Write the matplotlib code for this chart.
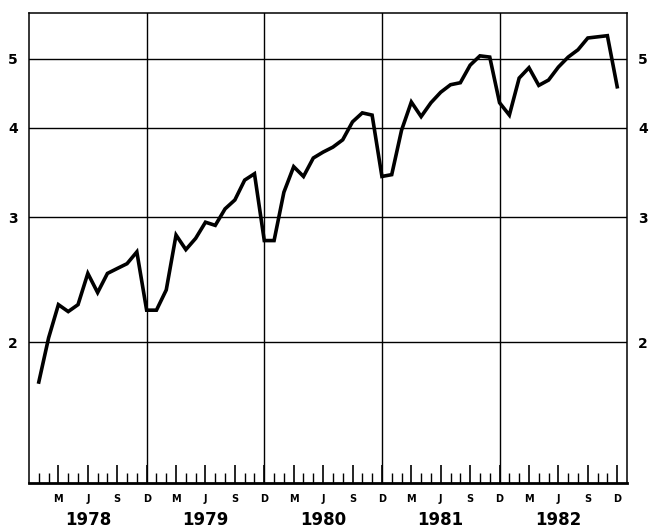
import matplotlib
matplotlib.use("Agg")
import matplotlib.pyplot as plt
from matplotlib.ticker import FixedLocator, NullFormatter, NullLocator

years = ["1978", "1979", "1980", "1981", "1982"]
month_letters = ["M", "J", "S", "D"]
y_ticks = [2, 3, 4, 5]

# Monthly values, Jan 1978 .. Dec 1982
v1978 = [1.76, 2.03, 2.26, 2.21, 2.26, 2.50, 2.35, 2.50, 2.54, 2.58, 2.68, 2.22]
v1979 = [2.22, 2.37, 2.83, 2.70, 2.80, 2.95, 2.92, 3.08, 3.17, 3.38, 3.45, 2.78]
v1980 = [2.78, 3.25, 3.53, 3.42, 3.63, 3.70, 3.76, 3.85, 4.08, 4.20, 4.17, 3.42]
v1981 = [3.44, 3.97, 4.35, 4.15, 4.34, 4.49, 4.60, 4.63, 4.90, 5.05, 5.03, 4.34]
v1982 = [4.17, 4.70, 4.86, 4.59, 4.67, 4.87, 5.03, 5.15, 5.35, 5.37, 5.39, 4.57]

values = v1978 + v1979 + v1980 + v1981 + v1982
months = list(range(1, len(values) + 1))

fig = plt.figure(figsize=(6.51, 5.29), dpi=100)
ax = fig.add_axes([29 / 651, 1 - 483 / 529, (627 - 29) / 651, (483 - 13) / 529])

ax.set_yscale("log")
ax.set_xlim(0, 61)
ax.set_ylim(1.27, 5.8)

# grid
for yv in y_ticks:
    ax.axhline(yv, color="black", lw=1.0, zorder=1)
for k in range(1, len(years)):
    ax.axvline(12 * k, color="black", lw=1.0, zorder=1)

ax.plot(months, values, color="black", lw=2.6, solid_joinstyle="miter", zorder=3)

for s in ax.spines.values():
    s.set_linewidth(1.1)
    s.set_color("black")
ax.spines["bottom"].set_linewidth(2.0)

# y axis labels on both sides
ax.yaxis.set_major_locator(FixedLocator(y_ticks))
ax.yaxis.set_minor_locator(NullLocator())
ax.yaxis.set_minor_formatter(NullFormatter())
ax.set_yticklabels([str(t) for t in y_ticks])
ax.tick_params(axis="y", which="both", length=0, labelleft=True, labelright=True,
               labelsize=10, pad=8)
for lab in ax.get_yticklabels():
    lab.set_fontweight("bold")

# x ticks: monthly small, quarterly larger, drawn inward
ax.xaxis.set_major_locator(FixedLocator([m for m in range(3, 61, 3)]))
ax.xaxis.set_minor_locator(FixedLocator([m for m in range(1, 61)]))
ax.set_xticklabels([month_letters[(m // 3 - 1) % 4] for m in range(3, 61, 3)])
ax.tick_params(axis="x", which="major", direction="in", length=13, width=1.2,
               labelsize=7, pad=8)
ax.tick_params(axis="x", which="minor", direction="in", length=7, width=1.0)
for lab in ax.get_xticklabels():
    lab.set_fontweight("bold")

# year labels
for k, yr in enumerate(years):
    ax.text(12 * k + 6, -0.078, yr, transform=ax.get_xaxis_transform(),
            ha="center", va="center", fontsize=12, fontweight="bold")

fig.savefig("out.png", dpi=100)
